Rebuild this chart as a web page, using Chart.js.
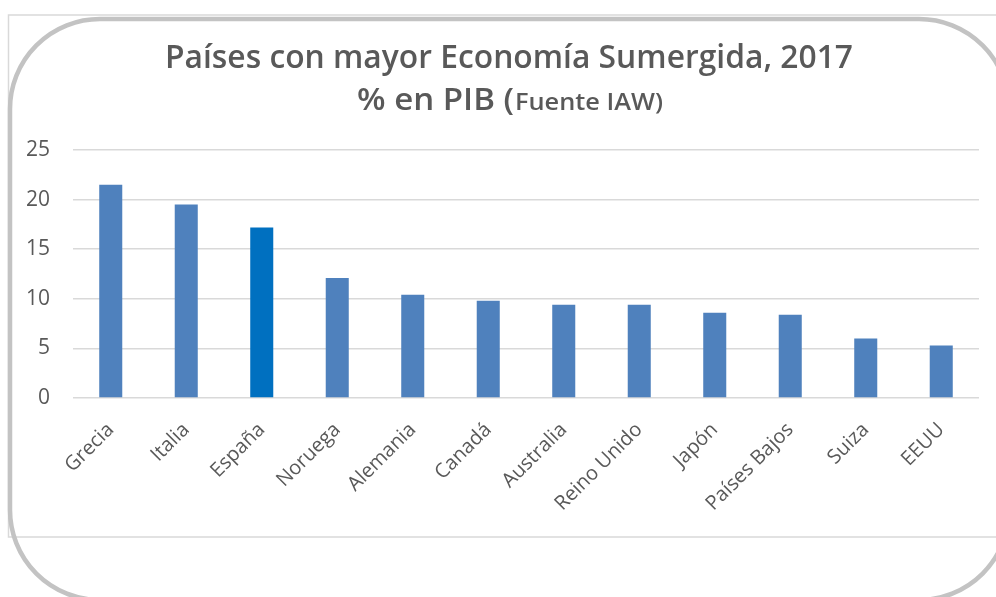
<!DOCTYPE html>
<html><head><meta charset="utf-8">
<script src="https://cdn.jsdelivr.net/npm/chart.js@4/dist/chart.umd.min.js"></script>
<style>html,body{margin:0;padding:0;background:#fff;overflow:hidden}</style>
</head><body>
<canvas id="c" width="996" height="597" style="display:block"></canvas>
<script>
const categories = ['Grecia','Italia','España','Noruega','Alemania','Canadá','Australia','Reino Unido','Japón','Países Bajos','Suiza','EEUU'];
const values = [21.5, 19.5, 17.2, 12.1, 10.4, 9.8, 9.4, 9.4, 8.6, 8.4, 6.0, 5.3];
const highlighted = 'España';
const yMin = 0, yMax = 25, yStep = 5;
const titleLine1 = 'Países con mayor Economía Sumergida, 2017';
const titleLine2Big = '% en PIB (';
const titleLine2Small = 'Fuente IAW)';

const baseColor = '#4F81BD';
const highColor = '#0070C0';
const textColor = '#595959';

function fitText(ctx, text, font, x, y, targetW) {
  ctx.font = font;
  const w = ctx.measureText(text).width;
  ctx.save();
  ctx.translate(x, y);
  ctx.scale(targetW / w, 1);
  ctx.textAlign = 'left';
  ctx.fillText(text, 0, 0);
  ctx.restore();
}

const framePlugin = {
  id: 'frame',
  beforeDraw(chart) {
    const ctx = chart.ctx;
    ctx.save();
    ctx.fillStyle = '#fff';
    ctx.fillRect(0, 0, chart.width, chart.height);
    ctx.strokeStyle = '#d9d9d9';
    ctx.lineWidth = 1.5;
    ctx.beginPath();
    ctx.moveTo(1000, 15); ctx.lineTo(8.5, 15); ctx.lineTo(8.5, 537); ctx.lineTo(1000, 537);
    ctx.stroke();
    ctx.strokeStyle = '#c3c3c3';
    ctx.lineWidth = 4.5;
    ctx.beginPath();
    ctx.roundRect(10, 19, 999, 581, 90);
    ctx.stroke();
    ctx.restore();
  },
  afterDraw(chart) {
    const ctx = chart.ctx;
    ctx.save();
    ctx.fillStyle = textColor;
    ctx.textBaseline = 'alphabetic';
    fitText(ctx, titleLine1, '600 32px "Open Sans"', 165, 68, 688);
    fitText(ctx, titleLine2Big, '600 31px "Open Sans"', 357, 110, 157);
    fitText(ctx, titleLine2Small, '600 24px "Open Sans"', 515, 110, 148);
    ctx.restore();
  }
};

function draw() {
  new Chart(document.getElementById('c'), {
    type: 'bar',
    data: {
      labels: categories,
      datasets: [{
        data: values,
        backgroundColor: categories.map(c => c === highlighted ? highColor : baseColor),
        barPercentage: 0.305,
        categoryPercentage: 1.0
      }]
    },
    options: {
      responsive: false,
      animation: false,
      devicePixelRatio: 1,
      layout: { padding: { left: 10, right: 17, top: 150, bottom: 59 } },
      plugins: { legend: { display: false }, title: { display: false }, tooltip: { enabled: false } },
      scales: {
        x: {
          grid: { display: false, drawTicks: false },
          border: { display: false },
          ticks: {
            color: textColor,
            font: { family: '"Open Sans"', size: 20 },
            minRotation: 45, maxRotation: 45,
            padding: 20, autoSkip: false
          },
          afterFit(axis) { axis.height = 140; }
        },
        y: {
          min: yMin, max: yMax,
          grid: { color: '#d9d9d9', lineWidth: 1.5, drawTicks: false },
          border: { display: false },
          ticks: {
            stepSize: yStep,
            color: textColor,
            font: { family: '"Open Sans"', size: 21 },
            padding: 23
          },
          afterFit(axis) { axis.width = 63; }
        }
      }
    },
    plugins: [framePlugin]
  });
}

Promise.all([
  document.fonts.load('20px "Open Sans"'),
  document.fonts.load('600 32px "Open Sans"')
]).then(draw, draw);
</script>
</body></html>
